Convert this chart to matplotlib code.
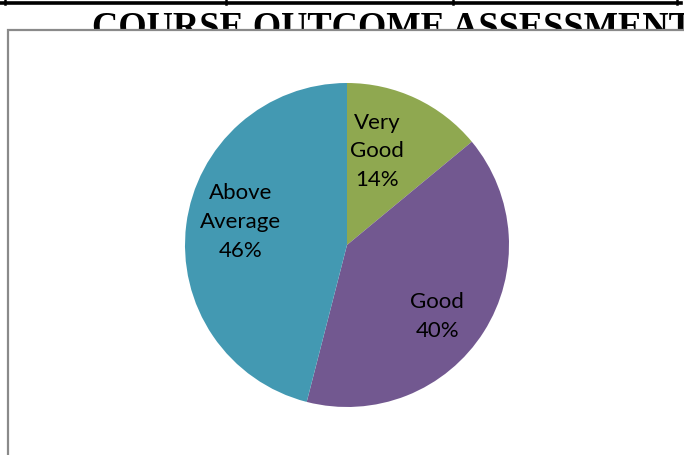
import matplotlib
matplotlib.use("Agg")
import matplotlib.pyplot as plt
from matplotlib.patches import Rectangle
from matplotlib.lines import Line2D

categories = ["Very\nGood", "Good", "Above\nAverage"]
values = [14, 40, 46]
colors = ["#8FA850", "#725890", "#4399B2"]
title = "COURSE OUTCOME ASSESSMENT"

W, H = 684, 455
fig = plt.figure(figsize=(W / 100, H / 100), dpi=100)
fig.patch.set_facecolor("white")

def fx(x):
    return x / W

def fy(y):
    return 1 - y / H

# table border fragment at the top
fig.add_artist(Line2D([0, fx(681)], [fy(2.5), fy(2.5)], color="black", lw=2.6, zorder=-3))
for xv in [5, 226, 453, 677]:
    fig.add_artist(Line2D([fx(xv), fx(xv)], [1, fy(4)], color="black", lw=1.8, zorder=-3))

# title (partly hidden by chart box, as in the source document)
fig.text(fx(92), fy(38), title, family="Liberation Serif", fontweight="bold",
         fontsize=26.3, color="black", ha="left", va="baseline", zorder=-3)

# chart area box
fig.add_artist(Rectangle((fx(8), -0.1), 1.2, fy(30) + 0.1, transform=fig.transFigure,
                         facecolor="white", edgecolor="#8a8a8a", lw=1.6, zorder=-1))

cx, cy, r = 347, 245, 162
ax = fig.add_axes([fx(cx - r), fy(cy + r), (2 * r) / W, (2 * r) / H])
ax.set_zorder(1)
ax.patch.set_visible(False)

labels_txt = [f"{c}\n{v}%" for c, v in zip(categories, values)]
wedges, texts = ax.pie(values, colors=colors, startangle=90, counterclock=False,
                       labels=labels_txt, labeldistance=0.66,
                       wedgeprops=dict(linewidth=0),
                       textprops=dict(family="Lato", fontsize=16, color="black",
                                      ha="center", va="center", linespacing=1.55))
offsets = [(-0.095, -0.02), (0.0, -0.09), (0.0, 0.06)]
for t, (dx, dy) in zip(texts, offsets):
    x, y = t.get_position()
    t.set_position((x + dx, y + dy))
    t.set_ha("center")
    t.set_va("center")
ax.set_xlim(-1, 1)
ax.set_ylim(-1, 1)
ax.set_aspect("equal")
ax.axis("off")

fig.savefig("out.png", dpi=100)
